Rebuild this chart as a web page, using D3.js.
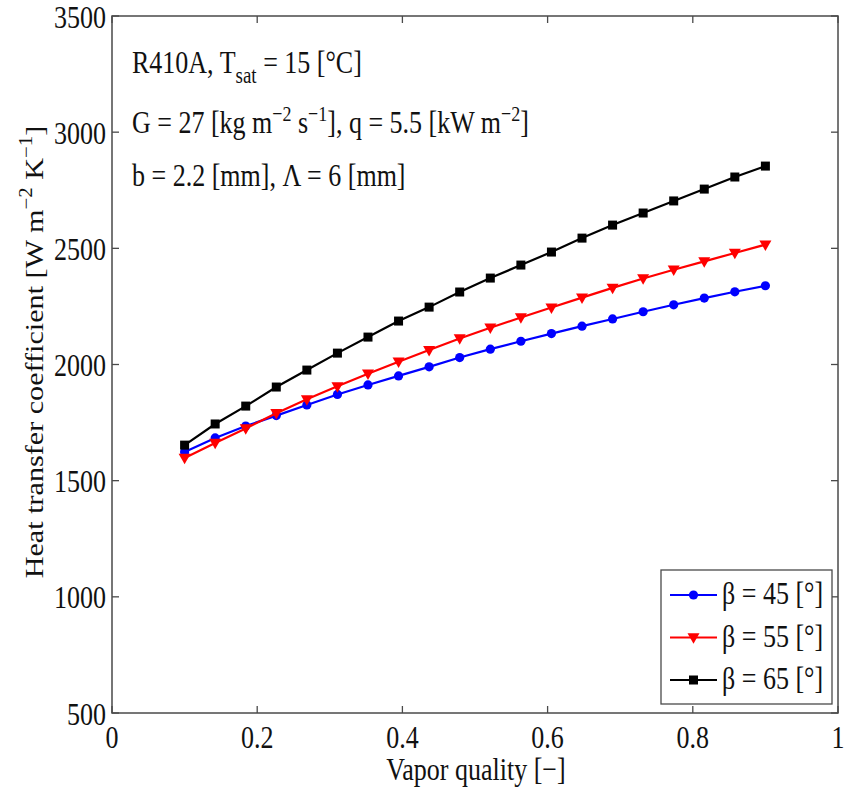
<!DOCTYPE html>
<html>
<head>
<meta charset="utf-8">
<script src="https://cdn.jsdelivr.net/npm/d3@7"></script>
<style>
  html, body { margin: 0; padding: 0; background: #fff; }
  svg { display: block; }
  text { font-family: "Liberation Serif", "Times New Roman", serif; fill: #111; }
</style>
</head>
<body>
<svg id="chart" width="844" height="789"></svg>
<script>
// Vapor quality sample points
const quality = [0.1, 0.1421, 0.1842, 0.2263, 0.2684, 0.3105, 0.3526, 0.3947, 0.4368, 0.4789,
                 0.5211, 0.5632, 0.6053, 0.6474, 0.6895, 0.7316, 0.7737, 0.8158, 0.8579, 0.9];
// Heat transfer coefficient [W m^-2 K^-1] for each chevron angle
const beta45 = [1623, 1684, 1735, 1780, 1826, 1871, 1912, 1951, 1990, 2030,
                2066, 2100, 2133, 2165, 2196, 2227, 2257, 2286, 2313, 2339];
const beta55 = [1598, 1662, 1725, 1790, 1850, 1906, 1960, 2012, 2062, 2112,
                2158, 2202, 2245, 2288, 2330, 2370, 2408, 2444, 2480, 2516];
const beta65 = [1653, 1744, 1821, 1903, 1976, 2049, 2118, 2187, 2247, 2312,
                2372, 2428, 2484, 2544, 2600, 2652, 2704, 2755, 2807, 2854];
const seriesNames = ["β = 45 [°]", "β = 55 [°]", "β = 65 [°]"];
const xTicks = [0, 0.2, 0.4, 0.6, 0.8, 1];
const xTickLabels = ["0", "0.2", "0.4", "0.6", "0.8", "1"];
const yTicks = [500, 1000, 1500, 2000, 2500, 3000, 3500];
const yTickLabels = ["500", "1000", "1500", "2000", "2500", "3000", "3500"];

const series = [
  { name: seriesNames[0], values: beta45, color: "#0000ff", marker: "circle" },
  { name: seriesNames[1], values: beta55, color: "#ff0000", marker: "triangle" },
  { name: seriesNames[2], values: beta65, color: "#000000", marker: "square" }
];

const svg = d3.select("#chart");
const frame = { left: 112, right: 838, top: 16, bottom: 713 };
const fs = 26, stretch = 1.22;  // serif glyphs are drawn slightly tall
const axisColor = "#4a4a4a";

const x = d3.scaleLinear().domain([0, 1]).range([frame.left, frame.right]);
const y = d3.scaleLinear().domain([500, 3500]).range([frame.bottom, frame.top]);

// text helper: places a tall-stretched serif label
function label(g, tx, ty, anchor, content) {
  const t = g.append("text")
    .attr("transform", `translate(${tx},${ty}) scale(1,${stretch})`)
    .attr("text-anchor", anchor)
    .attr("font-size", fs);
  if (typeof content === "string") t.text(content);
  else content(t);
  return t;
}

// plot frame
svg.append("rect")
  .attr("x", frame.left).attr("y", frame.top)
  .attr("width", frame.right - frame.left).attr("height", frame.bottom - frame.top)
  .attr("fill", "none").attr("stroke", axisColor).attr("stroke-width", 1.5);

const tickLen = 7;
// inward ticks on all four sides
const axes = svg.append("g").attr("stroke", axisColor).attr("stroke-width", 1.3);
xTicks.forEach(v => {
  axes.append("line").attr("x1", x(v)).attr("x2", x(v)).attr("y1", frame.bottom).attr("y2", frame.bottom - tickLen);
  axes.append("line").attr("x1", x(v)).attr("x2", x(v)).attr("y1", frame.top).attr("y2", frame.top + tickLen);
});
yTicks.forEach(v => {
  axes.append("line").attr("x1", frame.left).attr("x2", frame.left + tickLen).attr("y1", y(v)).attr("y2", y(v));
  axes.append("line").attr("x1", frame.right).attr("x2", frame.right - tickLen).attr("y1", y(v)).attr("y2", y(v));
});

// tick labels
const tl = svg.append("g");
xTicks.forEach((v, i) => label(tl, x(v), 748, "middle", xTickLabels[i]));
yTicks.forEach((v, i) => label(tl, 106, y(v) + 11.5, "end", yTickLabels[i]));

// axis titles
label(svg.append("g"), (frame.left + frame.right) / 2 + 1, 780, "middle", "Vapor quality [−]");
svg.append("text")
  .attr("transform", `translate(43,352) rotate(-90) scale(1.16,1)`)
  .attr("text-anchor", "middle")
  .attr("font-size", fs)
  .call(t => {
    t.append("tspan").text("Heat transfer coefficient [W m");
    t.append("tspan").attr("dy", -11).attr("font-size", 18).text("−2");
    t.append("tspan").attr("dy", 11).text(" K");
    t.append("tspan").attr("dy", -11).attr("font-size", 18).text("−1");
    t.append("tspan").attr("dy", 11).text("]");
  });

// condition annotations
const ann = svg.append("g");
label(ann, 132, 73, "start", t => {
  t.append("tspan").text("R410A, T");
  t.append("tspan").attr("dy", 8).attr("font-size", 19).text("sat");
  t.append("tspan").attr("dy", -8).text(" = 15 [°C]");
});
label(ann, 132, 133, "start", t => {
  t.append("tspan").text("G = 27 [kg m");
  t.append("tspan").attr("dy", -10).attr("font-size", 18).text("−2");
  t.append("tspan").attr("dy", 10).text(" s");
  t.append("tspan").attr("dy", -10).attr("font-size", 18).text("−1");
  t.append("tspan").attr("dy", 10).text("], q = 5.5 [kW m");
  t.append("tspan").attr("dy", -10).attr("font-size", 18).text("−2");
  t.append("tspan").attr("dy", 10).text("]");
});
label(ann, 132, 186, "start", "b = 2.2 [mm], Λ = 6 [mm]");

// marker drawing
function drawMarker(g, kind, cx, cy, color) {
  if (kind === "circle") {
    g.append("circle").attr("cx", cx).attr("cy", cy).attr("r", 4.6).attr("fill", color);
  } else if (kind === "square") {
    g.append("rect").attr("x", cx - 4.5).attr("y", cy - 4.5).attr("width", 9).attr("height", 9).attr("fill", color);
  } else {
    const s = 6;
    g.append("path")
      .attr("d", `M${cx - s},${cy - s * 0.7}L${cx + s},${cy - s * 0.7}L${cx},${cy + s * 1.05}Z`)
      .attr("fill", color);
  }
}

const line = d3.line().x(d => x(d[0])).y(d => y(d[1]));
const plot = svg.append("g");
series.forEach(s => {
  const pts = quality.map((q, i) => [q, s.values[i]]);
  plot.append("path").datum(pts)
    .attr("d", line)
    .attr("fill", "none").attr("stroke", s.color).attr("stroke-width", 2.2);
  const mg = plot.append("g");
  pts.forEach(p => drawMarker(mg, s.marker, x(p[0]), y(p[1]), s.color));
});

// legend
const lg = svg.append("g");
const lgX = 661, lgY = 570, lgW = 171, lgH = 134;
lg.append("rect").attr("x", lgX).attr("y", lgY).attr("width", lgW).attr("height", lgH)
  .attr("fill", "#fff").attr("stroke", axisColor).attr("stroke-width", 1.3);
series.forEach((s, i) => {
  const cy = 595 + i * 42.5;
  lg.append("line").attr("x1", 670).attr("x2", 717).attr("y1", cy).attr("y2", cy)
    .attr("stroke", s.color).attr("stroke-width", 2.2);
  drawMarker(lg, s.marker, 693.5, cy, s.color);
  label(lg, 722, cy + 9, "start", s.name);
});
</script>
</body>
</html>
